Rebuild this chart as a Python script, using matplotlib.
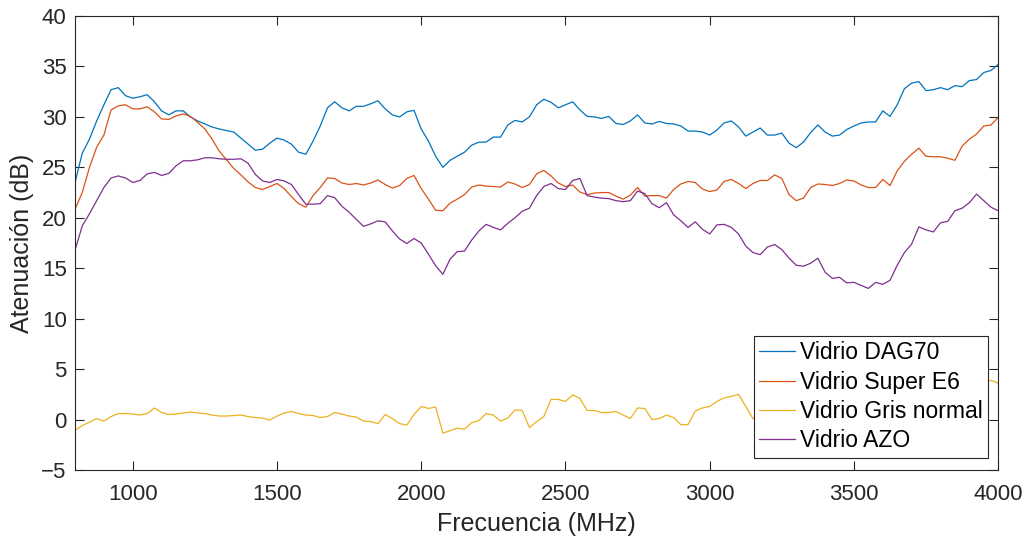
import numpy as np
import matplotlib
matplotlib.use("Agg")
import matplotlib.pyplot as plt

plt.rcParams['font.family'] = ['Liberation Sans', 'DejaVu Sans']

# Frequency sweep (MHz)
freq_mhz = np.arange(800, 4025, 25)

# Attenuation per glass type (dB)
dag70 = [
    23.5, 26.4, 27.8, 29.6, 31.2, 32.7, 32.9, 32.1, 31.85, 32.0,
    32.2, 31.5, 30.6, 30.2, 30.6, 30.6, 30.0, 29.6, 29.3, 29.0,
    28.8, 28.65, 28.5, 27.9, 27.3, 26.7, 26.8, 27.4, 27.9, 27.7,
    27.3, 26.5, 26.3, 27.6, 29.1, 30.9, 31.5, 30.9, 30.6, 31.05,
    31.05, 31.3, 31.6, 30.8, 30.2, 30.0, 30.5, 30.65, 28.8, 27.6,
    26.1, 25.0, 25.7, 26.1, 26.5, 27.2, 27.5, 27.5, 28.0, 28.0,
    29.2, 29.65, 29.5, 30.0, 31.2, 31.75, 31.45, 30.9, 31.2, 31.5,
    30.7, 30.05, 30.0, 29.85, 30.05, 29.35, 29.25, 29.6, 30.2, 29.4,
    29.3, 29.55, 29.35, 29.3, 29.1, 28.6, 28.6, 28.5, 28.2, 28.7,
    29.4, 29.6, 29.0, 28.1, 28.5, 28.9, 28.2, 28.2, 28.4, 27.4,
    26.95, 27.5, 28.45, 29.2, 28.5, 28.1, 28.2, 28.75, 29.1, 29.4,
    29.5, 29.5, 30.6, 30.05, 31.2, 32.8, 33.35, 33.5, 32.6, 32.7,
    32.9, 32.7, 33.1, 33.0, 33.6, 33.7, 34.4, 34.6, 35.2,
]

super_e6 = [
    20.85, 22.5, 25.0, 27.0, 28.2, 30.7, 31.1, 31.2, 30.8, 30.8,
    31.0, 30.5, 29.8, 29.75, 30.1, 30.3, 30.05, 29.45, 28.8, 27.8,
    26.6, 25.75, 24.9, 24.25, 23.55, 23.0, 22.8, 23.1, 23.4, 22.9,
    22.1, 21.4, 21.05, 22.2, 23.0, 23.95, 23.9, 23.45, 23.3, 23.4,
    23.25, 23.45, 23.75, 23.3, 22.95, 23.2, 23.9, 24.2, 22.9, 21.85,
    20.75, 20.7, 21.45, 21.85, 22.3, 23.05, 23.25, 23.15, 23.1, 23.05,
    23.55, 23.35, 23.0, 23.3, 24.35, 24.7, 24.15, 23.45, 23.1, 23.25,
    22.55, 22.3, 22.45, 22.5, 22.5, 22.15, 21.85, 22.25, 23.0, 22.15,
    22.2, 22.2, 21.95, 22.8, 23.35, 23.6, 23.5, 22.85, 22.6, 22.75,
    23.6, 23.8, 23.4, 22.9, 23.4, 23.7, 23.7, 24.25, 23.9, 22.3,
    21.7, 21.95, 23.0, 23.35, 23.3, 23.2, 23.4, 23.75, 23.65, 23.25,
    23.0, 23.0, 23.8, 23.2, 24.65, 25.6, 26.3, 26.9, 26.1, 26.05,
    26.05, 25.9, 25.7, 27.1, 27.8, 28.3, 29.1, 29.2, 29.95,
]

gris_normal = [
    -1.05, -0.6, -0.25, 0.1, -0.15, 0.3, 0.6, 0.6, 0.55, 0.45,
    0.6, 1.15, 0.7, 0.5, 0.55, 0.65, 0.75, 0.65, 0.6, 0.45,
    0.35, 0.35, 0.4, 0.45, 0.3, 0.2, 0.15, -0.05, 0.35, 0.65,
    0.8, 0.6, 0.45, 0.4, 0.2, 0.3, 0.7, 0.55, 0.35, 0.25,
    -0.15, -0.2, -0.4, 0.5, 0.1, -0.4, -0.55, 0.5, 1.3, 1.1,
    1.25, -1.35, -1.1, -0.85, -0.95, -0.3, -0.1, 0.6, 0.45, -0.15,
    0.15, 0.95, 0.9, -0.8, -0.2, 0.3, 2.0, 2.0, 1.8, 2.45,
    2.1, 0.9, 0.9, 0.7, 0.7, 0.8, 0.45, 0.1, 1.15, 1.1,
    0.0, 0.1, 0.45, 0.2, -0.5, -0.5, 0.85, 1.15, 1.3, 1.8,
    2.15, 2.3, 2.5, 1.3, 0.1, 0.4, 1.1, 0.7, 1.5, 1.2,
    0.9, 1.6, 2.0, 1.4, 1.8, 2.4, 2.1, 1.7, 2.2, 2.6,
    2.3, 2.9, 2.5, 2.2, 2.8, 3.1, 2.7, 3.3, 3.0, 2.6,
    3.2, 3.5, 3.1, 3.4, 3.7, 3.3, 3.6, 3.9, 3.6,
]

azo = [
    16.8, 19.2, 20.4, 21.7, 23.0, 23.95, 24.15, 23.95, 23.5, 23.7,
    24.35, 24.5, 24.2, 24.4, 25.15, 25.65, 25.65, 25.75, 25.95, 25.95,
    25.85, 25.8, 25.8, 25.85, 25.4, 24.3, 23.65, 23.5, 23.8, 23.65,
    23.3, 22.3, 21.35, 21.35, 21.4, 22.2, 22.0, 21.15, 20.55, 19.85,
    19.15, 19.4, 19.7, 19.6, 18.7, 17.9, 17.45, 17.95, 17.5, 16.4,
    15.25, 14.4, 15.9, 16.65, 16.7, 17.8, 18.7, 19.35, 19.05, 18.8,
    19.45, 20.0, 20.65, 20.95, 22.2, 23.1, 23.4, 22.9, 22.8, 23.7,
    23.9, 22.2, 22.05, 21.95, 21.9, 21.7, 21.6, 21.7, 22.65, 22.4,
    21.4, 21.0, 21.5, 20.3, 19.7, 19.05, 19.6, 18.85, 18.4, 19.3,
    19.35, 19.05, 18.4, 17.2, 16.55, 16.35, 17.1, 17.35, 16.85, 16.0,
    15.3, 15.2, 15.5, 16.0, 14.6, 14.0, 14.1, 13.55, 13.6, 13.3,
    13.0, 13.6, 13.4, 13.8, 15.3, 16.55, 17.4, 19.1, 18.8, 18.6,
    19.5, 19.65, 20.7, 20.95, 21.5, 22.35, 21.7, 21.05, 20.7,
]

series_labels = ['Vidrio DAG70', 'Vidrio Super E6', 'Vidrio Gris normal', 'Vidrio AZO']
series_colors = ['#0072BD', '#D95319', '#EDB120', '#7E2F8E']
x_ticks = [1000, 1500, 2000, 2500, 3000, 3500, 4000]
y_ticks = [-5, 0, 5, 10, 15, 20, 25, 30, 35, 40]

axis_color = '#262626'

fig = plt.figure(figsize=(10.28, 5.43), dpi=100)
ax = fig.add_axes([0.073, 0.1344, 0.898, 0.8361])

for values, label, color in zip([dag70, super_e6, gris_normal, azo], series_labels, series_colors):
    ax.plot(freq_mhz, values, color=color, linewidth=0.9, label=label)

ax.set_xlim(800, 4000)
ax.set_ylim(-5, 40)
ax.set_xticks(x_ticks)
ax.set_yticks(y_ticks)

for spine in ax.spines.values():
    spine.set_color(axis_color)
    spine.set_linewidth(0.8)

ax.tick_params(axis='both', direction='in', length=6.5, width=0.8,
               colors=axis_color, labelsize=16, top=True, right=True,
               labelcolor=axis_color)
ax.tick_params(axis='x', pad=10)
ax.tick_params(axis='y', pad=6)

ax.set_xlabel('Frecuencia (MHz)', fontsize=18, color=axis_color, labelpad=5)
ax.set_ylabel('Atenuación (dB)', fontsize=18, color=axis_color, labelpad=5)

leg = ax.legend(loc='lower right', bbox_to_anchor=(0.989, 0.026), borderaxespad=0,
                fontsize=16.5, frameon=True, fancybox=False, framealpha=1,
                edgecolor=axis_color, handlelength=1.55, handletextpad=0.2,
                borderpad=0.25, labelspacing=0.28)
leg.get_frame().set_linewidth(0.8)
for txt in leg.get_texts():
    txt.set_color('black')

fig.savefig('out.png', dpi=100)
